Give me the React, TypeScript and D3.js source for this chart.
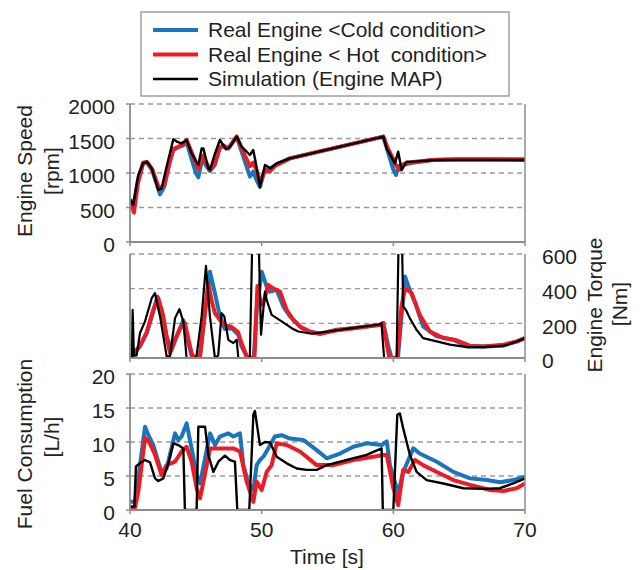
import React from "react";
import * as d3 from "d3";

type P = [number, number];

const speedCold: P[] = [[40,620],[40.25,510],[40.6,900],[41.0,1150],[41.3,1150],[41.7,1030],[42.28,691],[42.6,800],[43.0,1150],[43.29,1330],[43.7,1380],[44.05,1400],[44.3,1450],[44.68,1200],[45.0,1000],[45.19,937],[45.5,1212],[45.8,1100],[46.07,1029],[46.45,1116],[46.83,1381],[47.1,1380],[47.47,1357],[48.1,1527],[48.73,1164],[49.11,947],[49.36,1019],[49.6,900],[49.87,800],[50.25,1050],[50.6,1060],[51.14,1130],[52.15,1212],[59.24,1527],[59.6,1300],[60.0,1050],[60.2,971],[60.4,1100],[60.8,1120],[61.5,1150],[63,1190],[65,1200],[70,1190]];
const speedHot: P[] = [[40,620],[40.3,425],[40.6,850],[41.0,1150],[41.3,1160],[41.7,1050],[42.2,778],[42.6,820],[43.0,1150],[43.29,1350],[43.7,1380],[44.05,1420],[44.3,1478],[44.68,1300],[45.0,1150],[45.19,1060],[45.5,1250],[45.8,1150],[46.07,1043],[46.45,1150],[46.83,1370],[47.1,1400],[47.47,1357],[48.1,1527],[48.73,1250],[49.11,1100],[49.36,1150],[49.6,1050],[49.87,870],[50.25,1040],[50.6,1020],[51.0,1100],[51.5,1150],[52.15,1212],[59.24,1527],[59.6,1350],[60.0,1200],[60.2,1110],[60.5,1050],[60.8,1130],[61.5,1160],[63,1190],[65,1200],[70,1200]];
const speedSim: P[] = [[40,619],[40.25,536],[40.63,971],[41.0,1140],[41.27,1164],[41.65,1068],[42.15,754],[42.4,778],[42.78,1091],[43.29,1488],[43.6,1450],[43.92,1430],[44.3,1478],[44.68,1285],[45.19,1116],[45.44,1357],[45.57,1357],[45.95,1068],[46.07,1043],[46.45,1280],[46.83,1478],[47.29,1343],[47.6,1382],[48.1,1527],[48.48,1381],[49.11,1261],[49.36,1333],[49.56,1140],[49.87,792],[50.25,1116],[50.68,1067],[51.14,1140],[52.15,1212],[59.24,1527],[59.49,1357],[60.12,1140],[60.37,1309],[60.63,1043],[61.0,1164],[61.77,1169],[63.29,1188],[70,1188]];

const torqueCold: P[] = [[40,0],[40.38,38],[40.76,67],[41.27,144],[41.77,268],[42.07,355],[42.4,278],[42.78,125],[43.16,48],[43.54,125],[44.05,217],[44.3,125],[44.68,13],[45.06,0],[45.3,0],[45.57,182],[46.07,498],[46.45,374],[46.83,240],[47.2,167],[47.72,172],[48.23,134],[48.48,67],[48.86,10],[49.24,0],[49.4,0],[49.62,278],[50.0,498],[50.38,412],[50.63,383],[51.14,393],[51.65,297],[52.15,240],[52.91,182],[53.67,153],[54.43,140],[55.7,163],[56.96,172],[59.0,192],[59.24,201],[59.62,67],[59.87,0],[60.35,0],[60.88,470],[61.25,393],[61.76,297],[62.26,182],[63.3,125],[64.56,105],[65.6,67],[66.85,67],[68.37,71],[69.4,96],[70,115]];
const torqueHot: P[] = [[40,0],[40.38,30],[40.76,70],[41.27,150],[41.77,280],[42.15,345],[42.5,250],[42.78,120],[43.04,29],[43.4,100],[43.8,170],[44.17,201],[44.4,120],[44.7,20],[45.0,0],[45.3,0],[45.6,200],[45.95,431],[46.2,330],[46.45,259],[46.83,220],[47.2,190],[47.7,180],[48.2,150],[48.5,80],[48.86,10],[49.24,0],[49.45,0],[49.68,416],[49.9,330],[50.1,307],[50.5,422],[50.9,400],[51.4,383],[51.9,278],[52.4,220],[53.0,175],[53.67,150],[54.43,140],[55.7,160],[56.96,172],[59.0,192],[59.24,201],[59.5,80],[59.7,0],[60.3,0],[60.62,297],[60.88,402],[61.4,374],[62.0,249],[62.77,153],[63.8,115],[64.8,102],[65.8,71],[66.85,67],[68.37,77],[69.4,96],[70,115]];
const torqueSim: P[] = [[40,0],[40.15,0],[40.2,278],[40.3,13],[40.5,15],[40.76,144],[41.14,211],[41.65,345],[41.9,374],[42.28,240],[42.66,67],[42.78,10],[43.04,10],[43.42,230],[43.75,282],[44.05,211],[44.3,0],[44.93,0],[45.06,15],[45.44,240],[45.77,531],[46.07,240],[46.45,0],[46.7,15],[46.96,259],[47.16,240],[47.47,105],[47.85,86],[48.1,105],[48.23,0],[49.1,0],[49.35,900],[49.7,900],[49.95,134],[50.25,383],[50.38,335],[50.76,249],[51.52,211],[52.28,172],[52.78,153],[53.8,140],[55.06,153],[56.84,172],[58.86,192],[59.1,201],[59.3,0],[60.25,0],[60.45,900],[60.6,900],[60.75,297],[60.95,278],[61.25,230],[61.76,163],[62.26,115],[63.3,96],[64.3,77],[65.6,63],[66.9,63],[68.4,71],[69.4,96],[70,115]];

const fuelCold: P[] = [[40,1.2],[40.38,1.2],[40.76,6.6],[41.14,12.25],[41.4,11.0],[41.77,9.55],[42.15,7.1],[42.4,5.6],[42.78,6.1],[43.42,11.27],[43.67,10.3],[43.92,10.8],[44.3,12.74],[44.68,9.06],[45.06,5.15],[45.32,3.9],[45.7,7.6],[46.08,11.27],[46.46,9.55],[46.83,10.8],[47.47,11.27],[47.85,10.8],[48.35,11.27],[48.61,6.6],[48.99,3.9],[49.37,2.94],[49.62,6.6],[49.87,7.35],[50.13,7.84],[50.5,9.06],[51.0,10.8],[51.52,11.0],[52.15,10.5],[53.16,10.3],[54.18,8.8],[54.94,7.6],[55.95,8.3],[56.96,9.3],[57.97,9.8],[59.11,9.55],[59.5,10.1],[59.74,6.6],[60.37,2.45],[60.75,5.6],[61.52,9.06],[62.0,8.3],[63.3,7.1],[64.56,5.6],[65.83,4.65],[67.1,4.4],[68.1,4.07],[69.1,4.4],[70,4.9]];
const fuelHot: P[] = [[40,0.35],[40.38,0.35],[40.63,2.7],[41.14,10.6],[41.52,9.8],[41.9,8.1],[42.4,5.15],[42.78,6.6],[43.42,7.1],[43.92,8.6],[44.3,9.3],[44.68,7.1],[45.06,3.2],[45.32,1.7],[45.83,6.6],[46.08,9.06],[46.83,9.06],[47.85,9.06],[48.35,8.6],[48.86,4.2],[49.37,1.2],[49.62,4.2],[50.0,2.94],[50.38,5.6],[50.76,6.6],[51.14,9.8],[51.9,9.55],[52.91,8.6],[54.18,6.6],[55.44,6.6],[56.96,7.35],[58.48,7.84],[59.24,8.1],[59.5,8.1],[60.0,3.2],[60.37,0.7],[60.75,5.9],[61.14,5.6],[61.64,7.35],[62.26,6.6],[63.3,5.6],[64.56,4.4],[65.83,3.7],[67.35,2.94],[68.37,2.8],[69.37,3.2],[70,3.9]];
const fuelSim: P[] = [[40,0.5],[40.33,0.5],[40.45,6.4],[40.76,6.9],[41.14,7.35],[41.52,7.0],[41.9,4.65],[42.15,4.26],[42.53,4.65],[42.91,6.86],[43.29,9.8],[43.67,9.55],[44.05,9.06],[44.17,0],[45.06,0],[45.19,12.25],[45.7,12.25],[45.95,8.1],[46.33,5.6],[46.71,7.1],[47.21,8.0],[47.59,7.35],[47.97,7.1],[48.15,0],[49.06,0],[49.37,14.06],[49.49,14.55],[49.87,9.55],[50.25,10.0],[50.63,9.95],[51.14,7.84],[51.9,6.86],[52.66,6.1],[53.42,5.9],[54.18,5.9],[54.94,6.6],[56.46,7.35],[57.97,8.1],[59.11,9.06],[59.2,0],[60.0,0],[60.3,14.0],[60.5,14.2],[60.75,12],[61.26,8.1],[61.77,5.6],[62.53,4.4],[63.8,3.9],[65.32,3.2],[66.84,3.1],[68.1,3.2],[69.1,3.9],[70,4.65]];

const xTicks = [40, 50, 60, 70];
const speedTicks = [0, 500, 1000, 1500, 2000];
const torqueTicks = [0, 200, 400, 600];
const fuelTicks = [0, 5, 10, 15, 20];
const legendLabels = ["Real Engine <Cold condition>", "Real Engine < Hot  condition>", "Simulation (Engine MAP)"];

const BLUE = "#1b75bc";
const RED = "#ed1c24";
const BLACK = "#000000";
const AXIS = "#8c8c8c";
const GRID = "#9a9a9a";
const TXT = "#222222";
const FONT = "'Liberation Sans', Arial, sans-serif";
const FS = 21;

const L = 130, R = 525;
const x = d3.scaleLinear().domain([40, 70]).range([L, R]);
const ySpeed = d3.scaleLinear().domain([0, 2000]).range([242, 104]);
const yTorque = d3.scaleLinear().domain([0, 600]).range([358, 254]);
const yFuel = d3.scaleLinear().domain([0, 20]).range([510, 374]);

function Panel({ id, y, series, gridTicks }: { id: string; y: d3.ScaleLinear<number, number>; series: [P[], string, number][]; gridTicks: number[] }) {
  const [y0, y1] = y.range();
  const line = d3.line<P>().x(d => x(d[0])).y(d => y(d[1]));
  return (
    <g>
      <defs>
        <clipPath id={id}>
          <rect x={L} y={y1} width={R - L} height={y0 - y1} />
        </clipPath>
      </defs>
      {gridTicks.map(t => (
        <line key={t} x1={L} x2={R} y1={y(t)} y2={y(t)} stroke={GRID} strokeWidth={1.3} strokeDasharray="5,4" />
      ))}
      <g clipPath={`url(#${id})`}>
        {series.map(([d, c, w], i) => (
          <path key={i} d={line(d) || ""} fill="none" stroke={c} strokeWidth={w} strokeLinejoin="round" />
        ))}
      </g>
      <line x1={L} x2={L} y1={y1} y2={y0} stroke={AXIS} strokeWidth={1.8} />
      <line x1={R} x2={R} y1={y1} y2={y0} stroke={AXIS} strokeWidth={1.5} />
      <line x1={L} x2={R} y1={y0} y2={y0} stroke={AXIS} strokeWidth={1.8} />
      {xTicks.map(t => (
        <line key={t} x1={x(t)} x2={x(t)} y1={y0} y2={y0 + 4} stroke={AXIS} strokeWidth={1.5} />
      ))}
    </g>
  );
}

export default function App() {
  const legendY = [30, 54.5, 79];
  return (
    <svg width={643} height={570} style={{ position: "absolute", left: 0, top: 0 }} fontFamily={FONT}>
      <rect x={0} y={0} width={643} height={570} fill="#fff" />
      {/* legend */}
      <rect x={141} y={12} width={368} height={84} fill="#fff" stroke="#a0a0a0" strokeWidth={1.5} />
      {legendLabels.map((lab, i) => (
        <g key={i}>
          <line x1={153} x2={198} y1={legendY[i]} y2={legendY[i]} stroke={[BLUE, RED, BLACK][i]} strokeWidth={i === 2 ? 2.6 : 4} />
          <text x={208} y={legendY[i]} dy="0.35em" fontSize={FS} fill={TXT} style={{ whiteSpace: "pre" }}>{lab}</text>
        </g>
      ))}

      <Panel id="cp1" y={ySpeed} gridTicks={[500, 1000, 1500, 2000]} series={[[speedCold, BLUE, 4], [speedHot, RED, 4], [speedSim, BLACK, 2.4]]} />
      <Panel id="cp2" y={yTorque} gridTicks={[200, 400, 600]} series={[[torqueCold, BLUE, 4], [torqueHot, RED, 4], [torqueSim, BLACK, 2.2]]} />
      <Panel id="cp3" y={yFuel} gridTicks={[5, 10, 15, 20]} series={[[fuelCold, BLUE, 4], [fuelHot, RED, 4], [fuelSim, BLACK, 2.4]]} />

      {/* left ticks speed */}
      {speedTicks.map(t => (
        <g key={t}>
          <line x1={L - 4} x2={L} y1={ySpeed(t)} y2={ySpeed(t)} stroke={AXIS} strokeWidth={1.5} />
          <text x={115} y={ySpeed(t) + 3} dy="0.35em" textAnchor="end" fontSize={FS} fill={TXT}>{t}</text>
        </g>
      ))}
      {/* right ticks torque */}
      {torqueTicks.map(t => (
        <g key={t}>
          <text x={542} y={yTorque(t) + 3} dy="0.35em" textAnchor="start" fontSize={FS} fill={TXT}>{t}</text>
        </g>
      ))}
      {/* left ticks fuel */}
      {fuelTicks.map(t => (
        <g key={t}>
          <line x1={L - 4} x2={L} y1={yFuel(t)} y2={yFuel(t)} stroke={AXIS} strokeWidth={1.5} />
          <text x={115} y={yFuel(t) + 3} dy="0.35em" textAnchor="end" fontSize={FS} fill={TXT}>{t}</text>
        </g>
      ))}
      {/* x labels */}
      {xTicks.map(t => (
        <text key={t} x={x(t)} y={530} dy="0.35em" textAnchor="middle" fontSize={FS} fill={TXT}>{t}</text>
      ))}
      <text x={327} y={557} dy="0.35em" textAnchor="middle" fontSize={FS} fill={TXT}>Time [s]</text>

      {/* axis titles */}
      <text transform="translate(25,171) rotate(-90)" dy="0.35em" textAnchor="middle" fontSize={FS} fill={TXT}>Engine Speed</text>
      <text transform="translate(52,171) rotate(-90)" dy="0.35em" textAnchor="middle" fontSize={FS} fill={TXT}>[rpm]</text>
      <text transform="translate(25,444) rotate(-90)" dy="0.35em" textAnchor="middle" fontSize={FS} fill={TXT}>Fuel Consumption</text>
      <text transform="translate(52,437) rotate(-90)" dy="0.35em" textAnchor="middle" fontSize={FS} fill={TXT}>[L/h]</text>
      <text transform="translate(595,305) rotate(-90)" dy="0.35em" textAnchor="middle" fontSize={FS} fill={TXT}>Engine Torque</text>
      <text transform="translate(620,304) rotate(-90)" dy="0.35em" textAnchor="middle" fontSize={FS} fill={TXT}>[Nm]</text>
    </svg>
  );
}
